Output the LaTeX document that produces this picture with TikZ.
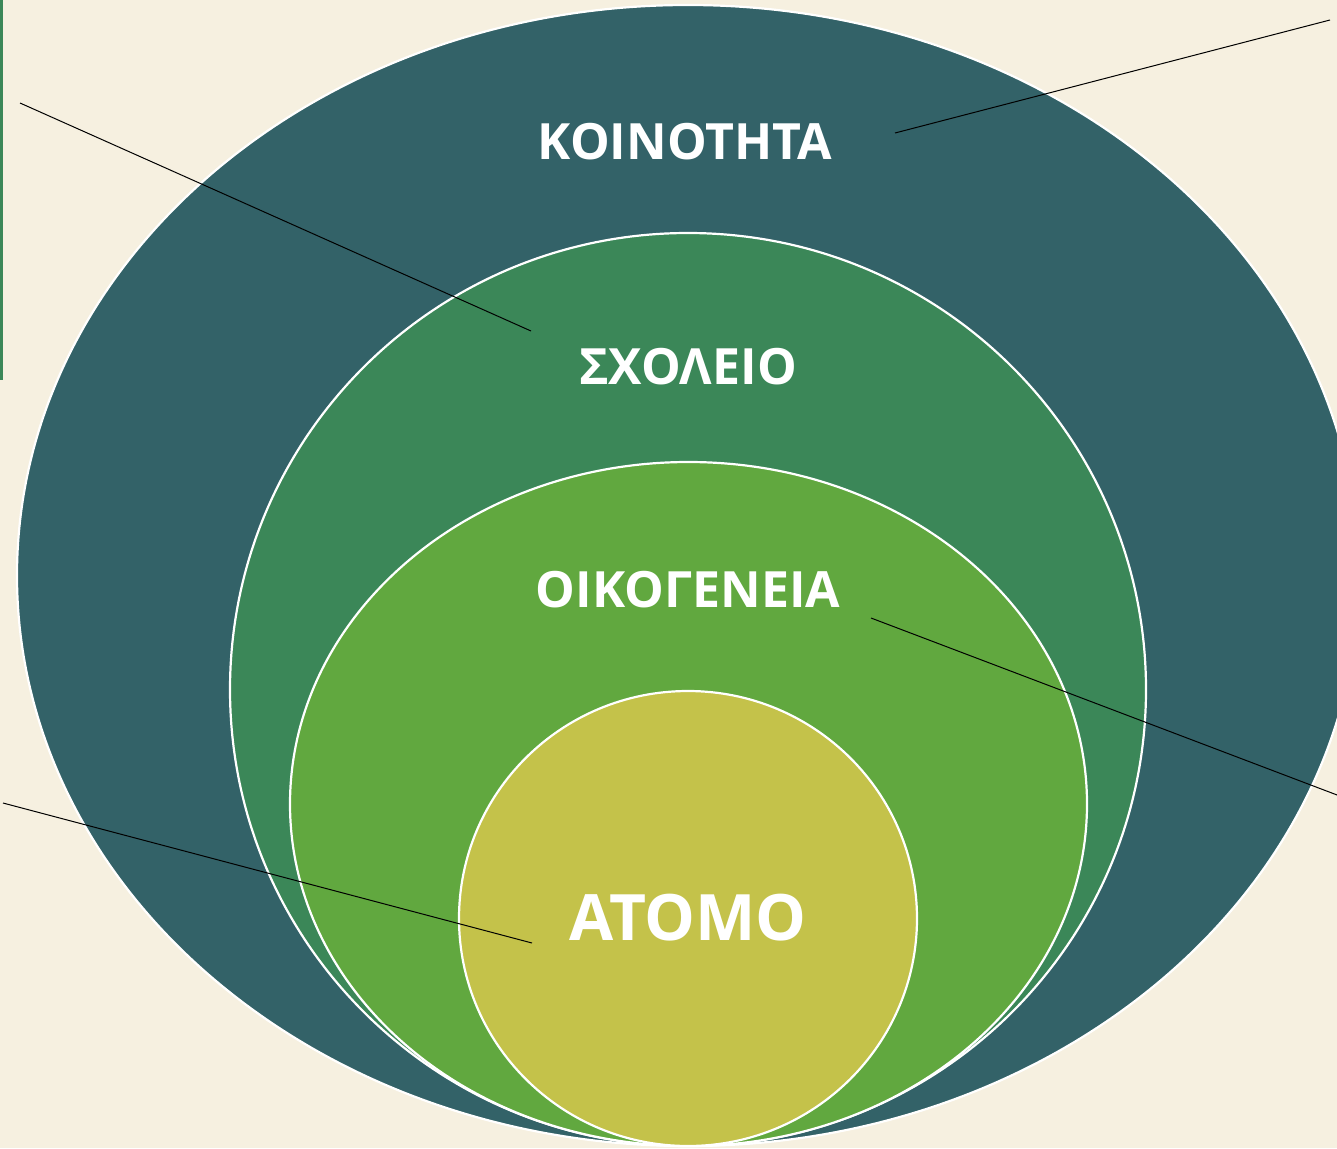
\documentclass[tikz,border=0pt]{standalone}
\usepackage{fontspec}
\setmainfont{Open Sans}
\usepackage{xcolor}
\usepackage{tikz}
\usetikzlibrary{shapes}
\definecolor{paper}{HTML}{F6F0E0}
\definecolor{koinotita}{HTML}{336268}
\definecolor{sxoleio}{HTML}{3B8758}
\definecolor{oikogeneia}{HTML}{61A83F}
\definecolor{atomo}{HTML}{C4C24A}
\tikzset{
	ring node/.style={ellipse,draw=white,line width=2.2pt,inner sep=0pt},
	word/.style={text=white,inner sep=0pt,font=\bfseries\fontsize{50}{58}\selectfont},
	pointer/.style={draw=black,line width=1pt}
}

\begin{document}
\begin{tikzpicture}[x=1pt,y=-1pt]
		    \clip (0,0) rectangle (1337,1148);
		    \fill [paper] (0,0) rectangle (1337,1148);
		    \fill [sxoleio] (0,0) rectangle (3,380);
		    % nested rings
		    \node [ring node,fill=koinotita,minimum width=1342pt,minimum height=1141pt] (1) at (688,575.5) {};
		    \node [ring node,fill=sxoleio,minimum width=916pt,minimum height=913pt] (2) at (688,689.5) {};
		    \node [ring node,fill=oikogeneia,minimum width=797pt,minimum height=684pt] (3) at (688.5,804) {};
		    \node [ring node,fill=atomo,minimum width=458pt,minimum height=455pt] (4) at (688,918.5) {};
		    % labels
		    \node [word] (k) at (685,142) {ΚΟΙΝΟΤΗΤΑ};
		    \node [word] (s) at (688,367) {ΣΧΟΛΕΙΟ};
		    \node [word] (o) at (688,590) {ΟΙΚΟΓΕΝΕΙΑ};
		    \node [word,font=\bfseries\fontsize{64}{72}\selectfont] (a) at (688,918) {ΑΤΟΜΟ};
		    % pointer lines
		    \coordinate (k1) at (1330,20);
		    \coordinate (k2) at (895,133);
		    \coordinate (s1) at (20,103);
		    \coordinate (s2) at (531,331);
		    \coordinate (o1) at (1345,798);
		    \coordinate (o2) at (871,618);
		    \coordinate (a1) at (3,803);
		    \coordinate (a2) at (532,943);
		    \draw [pointer] (k1) -- (k2);
		    \draw [pointer] (s1) -- (s2);
		    \draw [pointer] (o1) -- (o2);
		    \draw [pointer] (a1) -- (a2);
		  \end{tikzpicture}
\end{document}
